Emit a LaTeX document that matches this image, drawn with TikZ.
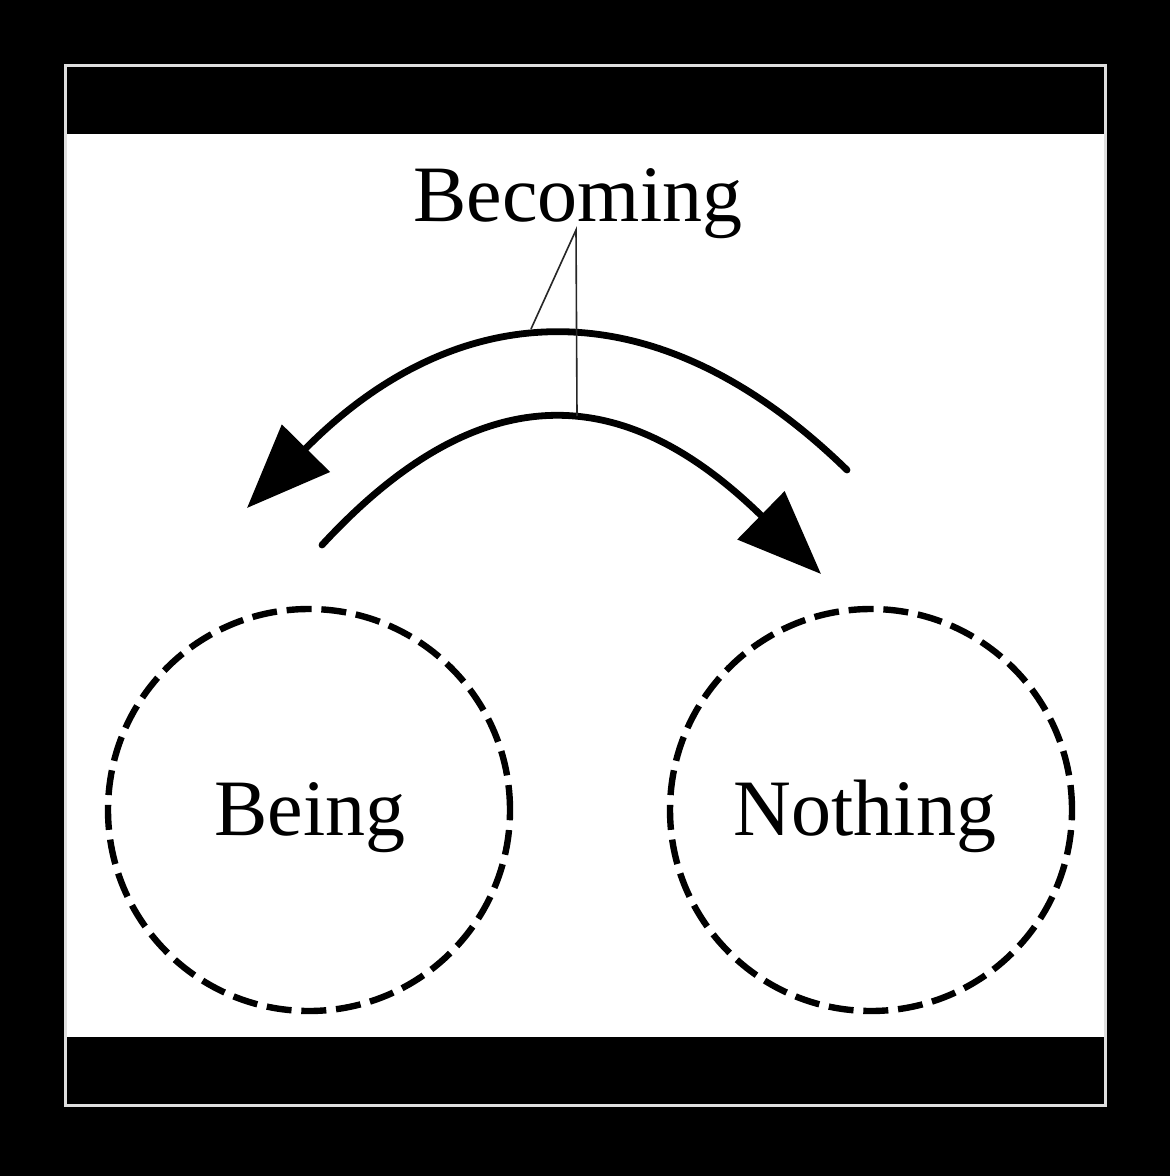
\documentclass[tikz,border=0pt]{standalone}
\usepackage{fontspec}
\setmainfont{Liberation Serif}
\usetikzlibrary{arrows.meta}

\tikzset{
  lbl/.style={font=\fontsize{40}{48}\selectfont, anchor=base, inner sep=0pt},
  ring/.style={circle, draw, dash pattern=on 12.5pt off 4.9pt, line width=3.2pt,
    minimum size=201pt, inner sep=0pt},
  swing/.style={line width=3.4pt, line cap=round, -{Triangle[length=42pt, width=33pt]}},
  leader/.style={line width=0.8pt, draw=black!85}
}

\begin{document}
\begin{tikzpicture}[x=0.5pt, y=-0.5pt]
% frame
\fill[black] (0,0) rectangle (1170,1176);
\fill[white] (65,134) rectangle (1105,1037);
\draw[line width=1.5pt, gray!25] (65,66) rectangle (1105,1105);

% the two states
\node[ring] (being) at (309,810) {};
\node[ring] (nothing) at (871,810) {};
\node[lbl] (beingtxt) at (310,835) {Being};
\node[lbl] (nothingtxt) at (865,835) {Nothing};

% becoming
\node[lbl] (becoming) at (578,222) {Becoming};

\coordinate (outS) at (847,470);
\coordinate (outE) at (247,508);
\coordinate (inS) at (322,545);
\coordinate (inE) at (821,574);

\draw[swing] (outS) .. controls (650,278) and (452,300) .. (outE);
\draw[swing] (inS) .. controls (500,352) and (645,402) .. (inE);

\coordinate (apex) at (576,230);
\coordinate (outTop) at (531,329);
\coordinate (inTop) at (577,416);
\draw[leader] (outTop) -- (apex) -- (inTop);
\end{tikzpicture}
\end{document}
